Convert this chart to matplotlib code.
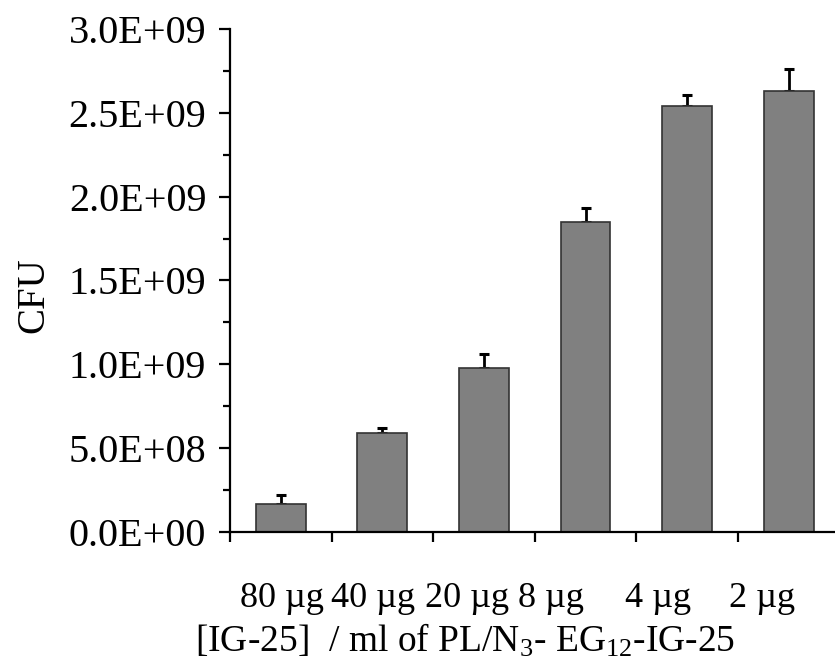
import numpy as np
import matplotlib
matplotlib.use("Agg")
import matplotlib.pyplot as plt
from matplotlib.ticker import FixedLocator, FuncFormatter

plt.rcParams['font.family'] = ['Liberation Serif', 'DejaVu Serif']
plt.rcParams['mathtext.fontset'] = 'custom'
plt.rcParams['mathtext.rm'] = 'Liberation Serif'
plt.rcParams['mathtext.it'] = 'Liberation Serif'

# data
doses = ["80 \u00b5g", "40 \u00b5g", "20 \u00b5g", "8 \u00b5g", "4 \u00b5g", "2 \u00b5g"]
cfu = [1.67e8, 5.89e8, 9.76e8, 1.85e9, 2.54e9, 2.63e9]
cfu_err = [5.5e7, 3.3e7, 8.4e7, 8.0e7, 6.8e7, 1.3e8]

# labels in the original are typed unevenly below the bars
label_pos = [0.01, 0.91, 1.83, 2.66, 3.71, 4.74]

fig = plt.figure(figsize=(8.35, 6.7), dpi=100)
ax = fig.add_axes([0.2754, 0.206, 0.730, 0.7507])

x = np.arange(len(doses))
ax.bar(x, cfu, width=0.49, color='#808080', edgecolor='#333333', linewidth=1.2, zorder=2)
ax.errorbar(x, cfu, yerr=[np.zeros(len(cfu)), cfu_err], fmt='none', ecolor='black',
            elinewidth=2, capsize=3.5, capthick=2.2, zorder=1)

ax.set_xlim(-0.5, 5.5)
ax.set_ylim(0, 3.0e9)

for s in ['top', 'right']:
    ax.spines[s].set_visible(False)
for s in ['left', 'bottom']:
    ax.spines[s].set_linewidth(1.6)
    ax.spines[s].set_clip_on(False)

ax.set_yticks(np.arange(0, 3.01e9, 0.5e9))
ax.yaxis.set_minor_locator(FixedLocator(np.arange(0.25e9, 3.0e9, 0.5e9)))
ax.yaxis.set_major_formatter(FuncFormatter(lambda v, p: f"{v:.1E}"))
ax.tick_params(axis='y', which='major', direction='out', length=8, width=1.6,
               labelsize=29, pad=9)
ax.tick_params(axis='y', which='minor', direction='out', length=5, width=1.6)

ax.xaxis.set_major_locator(FixedLocator(np.arange(-0.5, 5.6, 1.0)))
ax.xaxis.set_major_formatter(FuncFormatter(lambda v, p: ""))
ax.xaxis.set_minor_locator(FixedLocator(label_pos))
ax.set_xticklabels(doses, minor=True)
ax.tick_params(axis='x', which='minor', length=0, labelsize=26, pad=36)
ax.tick_params(axis='x', which='major', direction='out', length=7, width=1.6)

fig.text(0.040, 0.56, "CFU", rotation=90, fontsize=28, ha='center', va='center')
fig.text(0.557, 0.043, r"[IG-25]  / ml of PL/N$_3$- EG$_{12}$-IG-25", fontsize=27,
         ha='center', va='center')

fig.savefig("out.png", dpi=100, facecolor='white')
